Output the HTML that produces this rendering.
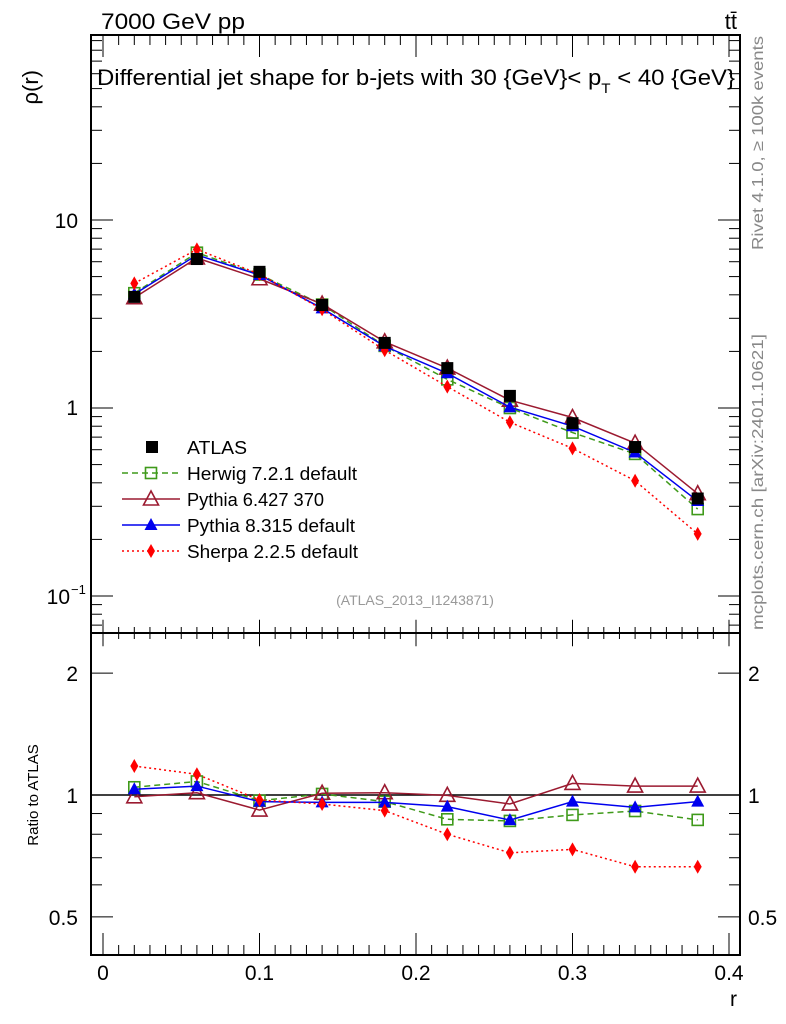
<!DOCTYPE html>
<html><head><meta charset="utf-8"><style>
body{margin:0;background:#fff}
svg{display:block;font-family:"Liberation Sans",sans-serif}
</style></head><body>
<svg id="c" width="786" height="1024" xmlns="http://www.w3.org/2000/svg"></svg>
<script>
const rVals=[0.02,0.06,0.10,0.14,0.18,0.22,0.26,0.30,0.34,0.38];
const atlas=[3.9,6.2,5.3,3.53,2.22,1.63,1.16,0.83,0.62,0.33];
const herwig=[4.08,6.70,5.13,3.55,2.14,1.42,1.00,0.74,0.57,0.29];
const pythia6=[3.86,6.28,4.87,3.57,2.25,1.63,1.10,0.89,0.65,0.35];
const pythia8=[4.03,6.52,5.10,3.39,2.13,1.53,1.01,0.80,0.58,0.32];
const sherpa=[4.6,6.98,5.15,3.35,2.03,1.30,0.84,0.61,0.41,0.214];
const herwigR=[1.045,1.08,0.968,1.006,0.963,0.871,0.863,0.893,0.913,0.868];
const pythia6R=[0.99,1.013,0.918,1.01,1.013,0.998,0.95,1.068,1.052,1.052];
const pythia8R=[1.033,1.052,0.963,0.959,0.959,0.936,0.867,0.963,0.932,0.963];
const sherpaR=[1.179,1.125,0.972,0.95,0.915,0.80,0.72,0.734,0.665,0.665];
const xTicks=[0,0.1,0.2,0.3,0.4];
const xTickLabels=["0","0.1","0.2","0.3","0.4"];

const L=91,R=740,T=35,M=633,B=955;
const X=r=>103+1565*r;
const Y=v=>220-188*(Math.log10(v)-1);
const YR=v=>795-405*Math.log10(v);
const svg=document.getElementById('c');
const NS='http://www.w3.org/2000/svg';
function mk(tag,at,parent){const e=document.createElementNS(NS,tag);for(const k in at)e.setAttribute(k,at[k]);(parent||svg).appendChild(e);return e;}
function txt(s,x,y,at){const e=mk('text',Object.assign({x:x,y:y,'font-size':20},at||{}));e.textContent=s;return e;}

let f=mk('rect',{x:L,y:T,width:R-L,height:M-T,fill:'none',stroke:'#000','stroke-width':2});

f=mk('rect',{x:L,y:M,width:R-L,height:B-M,fill:'none',stroke:'#000','stroke-width':2});


for(let i=0;i<=40;i++){const r=i/100,x=X(r);if(x>R)break;const big=i%10==0;const len=big?22:10;
 [[T,1],[M,-1],[M,1],[B,-1]].forEach(([y0,d])=>mk('line',{x1:x,x2:x,y1:y0,y2:y0+d*len*(y0==M?0.6:1),stroke:'#000','stroke-width':1}));}
xTicks.forEach((t,i)=>{const e=txt(xTickLabels[i],X(t),980,{'text-anchor':'middle','font-size':21});});
let e=txt('r',737,1006,{'text-anchor':'end','font-size':21});

for(let d=-2;d<=2;d++)for(let m=1;m<10;m++){const v=m*Math.pow(10,d),y=Y(v);if(y<T||y>M)continue;const len=m==1?22:11;
 mk('line',{x1:L,x2:L+len,y1:y,y2:y,stroke:'#000'});mk('line',{x1:R,x2:R-len,y1:y,y2:y,stroke:'#000'});}
e=txt('10',78,228,{'text-anchor':'end','font-size':21});
e=txt('1',78,415,{'text-anchor':'end','font-size':21});
e=txt('10',70,604,{'text-anchor':'end','font-size':21});
txt('−1',71,594,{'font-size':13});
e=txt('ρ(r)',38,70,{'text-anchor':'end',transform:'rotate(-90 38 70)','font-size':22});

for(let d=-1;d<=0;d++)for(let m=1;m<10;m++){const v=m*Math.pow(10,d),y=YR(v);if(y<M||y>B)continue;const len=(v==1||v==2||v==0.5)?22:11;
 mk('line',{x1:L,x2:L+len,y1:y,y2:y,stroke:'#000'});mk('line',{x1:R,x2:R-len,y1:y,y2:y,stroke:'#000'});}
[[2,'2'],[1,'1'],[0.5,'0.5']].forEach(([v,s])=>{let a=txt(s,78,YR(v)+8,{'text-anchor':'end','font-size':21});
 a=txt(s,748,YR(v)+8,{'font-size':21});});
e=txt('Ratio to ATLAS',38,795,{'text-anchor':'middle',transform:'rotate(-90 38 795)','font-size':15});
mk('line',{x1:L,x2:R,y1:YR(1),y2:YR(1),stroke:'#000','stroke-width':1.5});

e=txt('7000 GeV pp',101,29,{'font-size':22,textLength:144,lengthAdjust:'spacingAndGlyphs'});
e=txt('tt̄',737,29,{'font-size':22,'text-anchor':'end'});
e=mk('text',{x:97,y:85,'font-size':22,textLength:638,lengthAdjust:'spacingAndGlyphs'});e.innerHTML='Differential jet shape for b-jets with 30 {GeV}&lt; p<tspan font-size="14" dy="8">T</tspan><tspan dy="-8"> &lt; 40 {GeV}</tspan>';

e=txt('(ATLAS_2013_I1243871)',415,605,{'font-size':14,fill:'#999','text-anchor':'middle'});
e=txt('Rivet 4.1.0, ≥ 100k events',763,36,{'font-size':16,fill:'#888','text-anchor':'end',transform:'rotate(-90 763 36)',textLength:214,lengthAdjust:'spacingAndGlyphs'});
e=txt('mcplots.cern.ch [arXiv:2401.10621]',763,334,{'font-size':16,fill:'#888','text-anchor':'end',transform:'rotate(-90 763 334)',textLength:296,lengthAdjust:'spacingAndGlyphs'});

function marker(kind,x,y,col,g){
 if(kind=='sq')mk('rect',{x:x-6,y:y-6,width:12,height:12,fill:'#000'},g);
 else if(kind=='osq')mk('rect',{x:x-5.5,y:y-5.5,width:11,height:11,fill:'none',stroke:col,'stroke-width':1.6},g);
 else if(kind=='otri')mk('polygon',{points:`${x},${y-8} ${x-7.5},${y+6} ${x+7.5},${y+6}`,fill:'none',stroke:col,'stroke-width':1.6},g);
 else if(kind=='tri')mk('polygon',{points:`${x},${y-7} ${x-6.5},${y+5} ${x+6.5},${y+5}`,fill:col},g);
 else if(kind=='dia')mk('polygon',{points:`${x},${y-7} ${x-4},${y} ${x},${y+7} ${x+4},${y}`,fill:col},g);
}
const series=[
 {n:'herwig',v:herwig,r:herwigR,c:'#3f9a1a',k:'osq',d:'6,4',lab:'Herwig 7.2.1 default',w:170},
 {n:'pythia6',v:pythia6,r:pythia6R,c:'#9b1a30',k:'otri',d:'',lab:'Pythia 6.427 370',w:137},
 {n:'pythia8',v:pythia8,r:pythia8R,c:'#0000ee',k:'tri',d:'',lab:'Pythia 8.315 default',w:168},
 {n:'sherpa',v:sherpa,r:sherpaR,c:'#ff0000',k:'dia',d:'2,3',lab:'Sherpa 2.2.5 default',w:171}];
series.forEach(s=>{
 const g=mk('g',{});
 mk('polyline',{points:rVals.map((r,i)=>X(r)+','+Y(s.v[i])).join(' '),fill:'none',stroke:s.c,'stroke-width':1.5,'stroke-dasharray':s.d},g);
 rVals.forEach((r,i)=>marker(s.k,X(r),Y(s.v[i]),s.c,g));
 const g2=mk('g',{});
 mk('polyline',{points:rVals.map((r,i)=>X(r)+','+YR(s.r[i])).join(' '),fill:'none',stroke:s.c,'stroke-width':1.5,'stroke-dasharray':s.d},g2);
 rVals.forEach((r,i)=>marker(s.k,X(r),YR(s.r[i]),s.c,g2));
});
const ga=mk('g',{});
rVals.forEach((r,i)=>marker('sq',X(r),Y(atlas[i]),'#000',ga));

const lg=mk('g',{});
const ly=[447,473,499,525,551];
marker('sq',152,ly[0],'#000',lg);let t=txt('ATLAS',187,ly[0]+7,{'font-size':18,textLength:60,lengthAdjust:'spacingAndGlyphs'});lg.appendChild(t);
series.forEach((s,i)=>{const y=ly[i+1];mk('line',{x1:122,x2:180,y1:y,y2:y,stroke:s.c,'stroke-width':1.5,'stroke-dasharray':s.d},lg);marker(s.k,151,y,s.c,lg);
 const tt=txt(s.lab,187,y+7,{'font-size':18,textLength:s.w,lengthAdjust:'spacingAndGlyphs'});lg.appendChild(tt);});
</script>
</body></html>
